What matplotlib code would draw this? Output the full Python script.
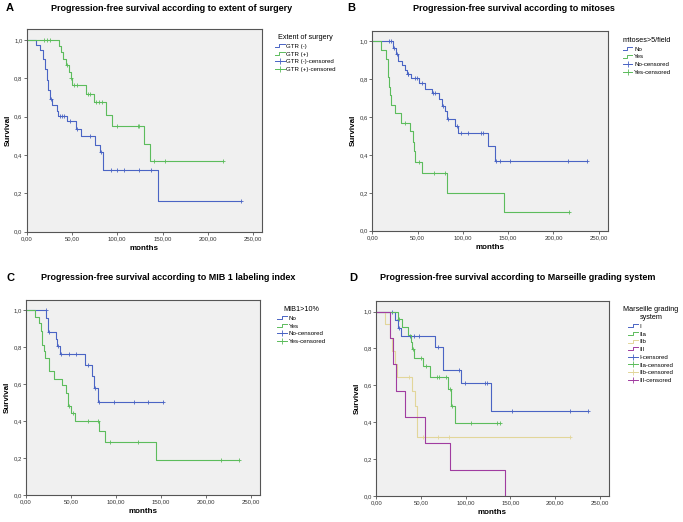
import numpy as np
import matplotlib
matplotlib.use("Agg")
import matplotlib.pyplot as plt
from matplotlib.lines import Line2D
from matplotlib.legend_handler import HandlerBase

plt.rcParams['font.family'] = ['Liberation Sans', 'DejaVu Sans']

# ---- data (months, survival) ----
# A: extent of surgery
a_neg_t = [10, 15, 18, 20, 22, 24, 26, 27.5, 33, 35, 45, 54, 60, 75, 81, 84, 145]
a_neg_s = [0.975, 0.95, 0.90, 0.85, 0.79, 0.74, 0.69, 0.66, 0.63, 0.605, 0.575, 0.535, 0.50, 0.455, 0.415, 0.32, 0.16]
a_neg_c = [27, 37, 39, 41, 48, 56, 70, 82.5, 93, 100, 107, 124, 137, 237]
a_pos_t = [36, 38, 40, 43, 47, 48.5, 50, 66, 74, 88, 94, 129, 136]
a_pos_s = [0.97, 0.935, 0.90, 0.87, 0.835, 0.80, 0.765, 0.72, 0.675, 0.61, 0.55, 0.46, 0.37]
a_pos_c = [19, 22, 26, 45, 49, 52, 56, 68, 70, 77, 80, 83, 100, 123, 124, 141, 153, 217]

# B: mitoses
b_no_t = [23, 26, 28, 33, 36, 38, 43, 52, 58, 66, 74, 77, 80, 83, 91, 95, 128, 136]
b_no_s = [0.965, 0.935, 0.895, 0.875, 0.85, 0.83, 0.805, 0.78, 0.75, 0.725, 0.695, 0.66, 0.63, 0.59, 0.555, 0.515, 0.445, 0.37]
b_no_c = [18, 21, 24.5, 27, 39, 40, 47, 49, 55, 67, 69, 78, 84, 93, 98, 106, 120, 122, 137, 141, 152, 216, 237]
b_yes_t = [10, 15.5, 17.5, 18.5, 19.5, 21, 25.5, 32, 42, 44.5, 46, 47, 55, 83, 145]
b_yes_s = [0.955, 0.905, 0.81, 0.76, 0.715, 0.665, 0.62, 0.57, 0.525, 0.47, 0.42, 0.365, 0.305, 0.20, 0.10]
b_yes_c = [36.5, 52, 68, 80.5, 217]

# C: MIB 1 labeling index
c_no_t = [22.5, 24.5, 33, 35, 37.5, 66, 73, 75, 80]
c_no_s = [0.96, 0.885, 0.845, 0.81, 0.765, 0.705, 0.645, 0.58, 0.505]
c_no_c = [22, 25.5, 36, 39, 48, 55, 68.5, 77, 81.5, 98, 120, 136, 152]
c_yes_t = [9.5, 15, 17, 18, 19.5, 21.5, 26, 31, 40, 44.5, 46.5, 50, 54.5, 81.5, 88, 144]
c_yes_s = [0.965, 0.93, 0.89, 0.815, 0.78, 0.74, 0.67, 0.63, 0.595, 0.555, 0.48, 0.445, 0.40, 0.345, 0.285, 0.19]
c_yes_c = [47.5, 52, 69, 80.5, 93, 124, 217, 237]

# D: Marseille grading
d1_t = [21, 24, 28, 66, 75, 95, 128]
d1_s = [0.955, 0.91, 0.865, 0.81, 0.685, 0.615, 0.46]
d1_c = [18, 25.5, 38, 42, 48, 69, 93, 99, 122, 124, 152, 217, 237]
d2a_t = [24, 29, 36, 38.5, 40, 42, 52, 60, 80.5, 83.5, 88]
d2a_s = [0.96, 0.915, 0.875, 0.835, 0.795, 0.75, 0.705, 0.645, 0.58, 0.49, 0.395]
d2a_c = [25.5, 40.5, 49.5, 56, 68, 70, 78.5, 82, 84.5, 106, 135, 139]
d2b_t = [10, 15, 18, 21, 23, 40, 43, 46]
d2b_s = [0.93, 0.855, 0.785, 0.715, 0.645, 0.57, 0.49, 0.32]
d2b_c = [36.5, 52, 69, 81, 217]
d3_t = [15, 18.5, 22, 32, 55, 82, 144]
d3_s = [0.857, 0.714, 0.571, 0.429, 0.286, 0.143, 0.0]
d3_c = []

xticks = [0, 50, 100, 150, 200, 250]
xticklabels = ["0,00", "50,00", "100,00", "150,00", "200,00", "250,00"]
yticks = [0, 0.2, 0.4, 0.6, 0.8, 1.0]
yticklabels = ["0,0", "0,2", "0,4", "0,6", "0,8", "1,0"]

BLUE = '#4a64c4'
GREEN = '#5cbc5c'
YELLOW = '#e2d69a'
PURPLE = '#a03ca0'
BG = '#f0f0f0'


class StepHandler(HandlerBase):
    # little step icon like SPSS uses for curves
    def create_artists(self, legend, orig_handle, xdescent, ydescent,
                       width, height, fontsize, trans):
        x0 = -xdescent
        y0 = -ydescent + height * 0.15
        y1 = -ydescent + height * 0.85
        xs = [x0, x0 + width * 0.45, x0 + width * 0.45, x0 + width]
        ys = [y0, y0, y1, y1]
        ln = Line2D(xs, ys, color=orig_handle.get_color(), lw=0.7)
        ln.set_transform(trans)
        return [ln]


def km(ax, t, s, c, color):
    end = max(list(t) + list(c))
    xs = np.concatenate([[0], t, [end]])
    ys = np.concatenate([[1.0], s, [s[-1]]])
    ax.step(xs, ys, where='post', color=color, lw=0.8)
    if len(c):
        idx = np.searchsorted(np.asarray(t), np.asarray(c), side='right')
        cy = np.concatenate([[1.0], s])[idx]
        ax.plot(c, cy, '+', color=color, ms=3.5, mew=0.6)


def setup(ax):
    ax.set_facecolor(BG)
    ax.set_xlim(0, 260)
    ax.set_ylim(0, 1.056)
    ax.set_xticks(xticks)
    ax.set_xticklabels(xticklabels)
    ax.set_yticks(yticks)
    ax.set_yticklabels(yticklabels)
    ax.tick_params(labelsize=4.3, length=2, width=0.5, pad=1, colors='#333333')
    for sp in ax.spines.values():
        sp.set_color('#555555')
        sp.set_linewidth(0.8)
    ax.set_xlabel("months", fontsize=5.8, fontweight='bold', labelpad=3)
    ax.set_ylabel("Survival", fontsize=5.8, fontweight='bold', labelpad=2)


def legend(ax, title, labels, colors, anchor):
    curves = [Line2D([], [], color=col, lw=0.7) for col in colors]
    cens = [Line2D([], [], color=col, lw=0.7, marker='+', ms=4, mew=0.6,
                   markeredgecolor=col) for col in colors]
    hm = {h: StepHandler() for h in curves}
    lg = ax.legend(curves + cens, labels + [l + "-censored" for l in labels],
                   title=title, loc='upper left', bbox_to_anchor=anchor,
                   frameon=False, fontsize=4.4, title_fontsize=5.2,
                   handlelength=1.6, handletextpad=0.3, labelspacing=0.4,
                   borderpad=0, handler_map=hm, numpoints=1, alignment='center')
    lg.get_title().set_multialignment('center')


fig = plt.figure(figsize=(6.83, 5.22), dpi=100)

axA = fig.add_axes([0.039, 0.556, 0.345, 0.388])
axB = fig.add_axes([0.545, 0.558, 0.345, 0.383])
axC = fig.add_axes([0.038, 0.052, 0.343, 0.373])
axD = fig.add_axes([0.551, 0.050, 0.340, 0.373])

for ax in (axA, axB, axC, axD):
    setup(ax)

km(axA, a_neg_t, a_neg_s, a_neg_c, BLUE)
km(axA, a_pos_t, a_pos_s, a_pos_c, GREEN)
legend(axA, "Extent of surgery", ["GTR (-)", "GTR (+)"], [BLUE, GREEN], (1.04, 0.99))

km(axB, b_no_t, b_no_s, b_no_c, BLUE)
km(axB, b_yes_t, b_yes_s, b_yes_c, GREEN)
legend(axB, "mitoses>5/field", ["No", "Yes"], [BLUE, GREEN], (1.05, 0.985))

km(axC, c_no_t, c_no_s, c_no_c, BLUE)
km(axC, c_yes_t, c_yes_s, c_yes_c, GREEN)
legend(axC, "MIB1>10%", ["No", "Yes"], [BLUE, GREEN], (1.06, 0.985))

km(axD, d1_t, d1_s, d1_c, BLUE)
km(axD, d2a_t, d2a_s, d2a_c, GREEN)
km(axD, d2b_t, d2b_s, d2b_c, YELLOW)
km(axD, d3_t, d3_s, d3_c, PURPLE)
legend(axD, "Marseille grading\nsystem", ["I", "IIa", "IIb", "III"],
       [BLUE, GREEN, YELLOW, PURPLE], (1.05, 0.99))

# panel letters and titles
tkw = dict(fontsize=6.5, fontweight='bold', ha='center', va='center')
lkw = dict(fontsize=8, fontweight='bold', ha='left', va='center')
fig.text(0.008, 0.984, "A", **lkw)
fig.text(0.251, 0.984, "Progression-free survival according to extent of surgery", **tkw)
fig.text(0.508, 0.984, "B", **lkw)
fig.text(0.753, 0.984, "Progression-free survival according to mitoses", **tkw)
fig.text(0.010, 0.468, "C", **lkw)
fig.text(0.246, 0.468, "Progression-free survival according to MIB 1 labeling index", **tkw)
fig.text(0.512, 0.468, "D", **lkw)
fig.text(0.758, 0.468, "Progression-free survival according to Marseille grading system", **tkw)

fig.savefig("out.png", dpi=100)
